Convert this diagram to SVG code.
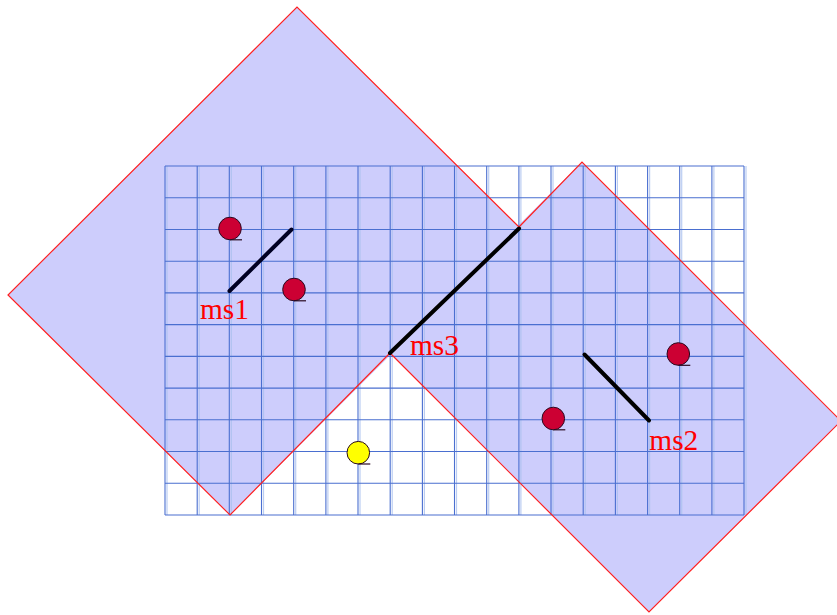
<svg xmlns="http://www.w3.org/2000/svg" width="837" height="615" viewBox="0 0 837 615">
<style>
.area{fill:#cdcdfc;stroke:none}
.edge{fill:none;stroke:#ff2020;stroke-width:1.2}
.g{stroke:#4a6fd0;stroke-width:1.1;fill:none}
.gs{stroke:#aac0ee;stroke-width:1.2;fill:none;opacity:0.8}
.seg{stroke-width:4;stroke-linecap:round;fill:none}
.pt{stroke:#2a0a20;stroke-width:1}
.tick{stroke:#2a0a20;stroke-width:1.2}
.lbl{font-family:"Liberation Serif","Times New Roman",serif;font-size:30px;fill:#ff0000}
</style>
<rect width="837" height="615" fill="#ffffff"/>
<g id="regions">
<polygon class="area" points="297,7 8,295 230,515 519,227"/>
<polygon class="area" points="582,162 390,353 649,612 841,421"/>
</g>
<g id="grid">
<path class="gs" d="M167,166V515M199.2,166V515M231.3,166V515M263.5,166V515M295.7,166V515M327.9,166V515M360,166V515M392.2,166V515M424.4,166V515M456.5,166V515M488.7,166V515M520.9,166V515M553,166V515M585.2,166V515M617.4,166V515M649.6,166V515M681.7,166V515M713.9,166V515M746,166V515"/>
<path class="g" d="M165,166V515M197.2,166V515M229.3,166V515M261.5,166V515M293.7,166V515M325.9,166V515M358,166V515M390.2,166V515M422.4,166V515M454.5,166V515M486.7,166V515M518.9,166V515M551,166V515M583.2,166V515M615.4,166V515M647.6,166V515M679.7,166V515M711.9,166V515M744,166V515"/>
<path class="g" d="M165,166H744M165,197.7H744M165,229.5H744M165,261.2H744M165,292.9H744M165,324.6H744M165,356.4H744M165,388.1H744M165,419.8H744M165,451.5H744M165,483.3H744M165,515H744"/>
</g>
<g id="outlines">
<polyline class="edge" points="519,227 297,7 8,295 230,515 390,353"/>
<polyline class="edge" points="519,227 582,162 841,421 649,612 390,353"/>
</g>
<g id="connectors">
<line id="ms1-line" class="seg" x1="229.5" y1="291" x2="291.5" y2="229.5" stroke="#000022"/>
<line id="ms3-line" class="seg" x1="390" y1="353" x2="519" y2="228.5" stroke="#000000"/>
<line id="ms2-line" class="seg" x1="584.5" y1="354.5" x2="649" y2="420.5" stroke="#000000"/>
</g>
<g id="p1"><circle class="pt" cx="230" cy="228.5" r="11.3" fill="#cc0033"/><line class="tick" x1="230" y1="239.8" x2="242" y2="239.8"/></g>
<g id="p2"><circle class="pt" cx="294" cy="289.5" r="11.3" fill="#cc0033"/><line class="tick" x1="294" y1="300.8" x2="306" y2="300.8"/></g>
<g id="p3"><circle class="pt" cx="678.3" cy="354" r="11.3" fill="#cc0033"/><line class="tick" x1="678.3" y1="365.3" x2="690.3" y2="365.3"/></g>
<g id="p4"><circle class="pt" cx="553.3" cy="418.5" r="11.3" fill="#cc0033"/><line class="tick" x1="553.3" y1="429.8" x2="565.3" y2="429.8"/></g>
<g id="p5"><circle class="pt" cx="358.3" cy="452.7" r="11.3" fill="#ffff00"/><line class="tick" x1="358.3" y1="464" x2="370.3" y2="464"/></g>
<g id="labels">
<text id="ms1" class="lbl" x="200" y="318.5" textLength="49" lengthAdjust="spacingAndGlyphs">ms1</text>
<text id="ms3" class="lbl" x="410" y="355" textLength="49" lengthAdjust="spacingAndGlyphs">ms3</text>
<text id="ms2" class="lbl" x="649.3" y="449.5" textLength="49" lengthAdjust="spacingAndGlyphs">ms2</text>
</g>
</svg>
